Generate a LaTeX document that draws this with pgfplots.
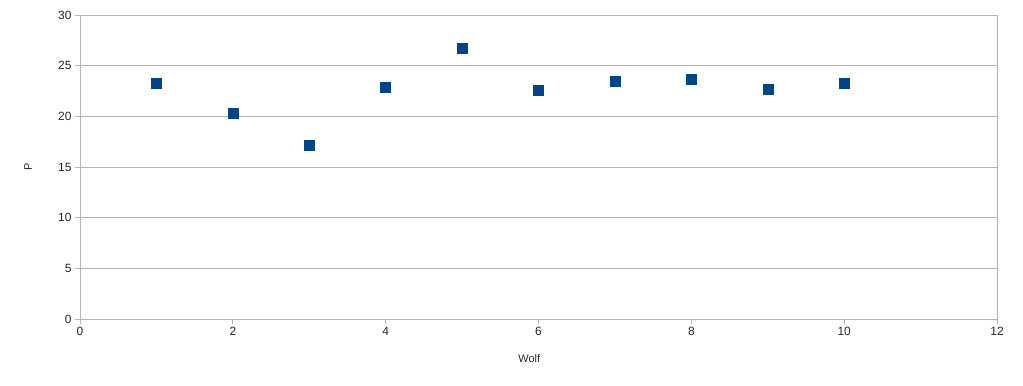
\documentclass[border=0pt]{standalone}
\usepackage{pgfplots}
\pgfplotsset{compat=1.18}
\usepackage{fontspec}
\setmainfont{Liberation Sans}
\definecolor{gridgray}{HTML}{B3B3B3}
\definecolor{ptblue}{HTML}{004586}
\begin{document}
\begin{tikzpicture}
\begin{axis}[
  at={(0,0)}, anchor=south west,
  scale only axis,
  width=917bp, height=304bp,
  xmin=0, xmax=12, ymin=0, ymax=30,
  xtick={0,2,...,12}, ytick={0,5,...,30},
  ymajorgrids,
  grid style={gridgray, line width=0.8bp},
  axis line style={gridgray, line width=0.8bp},
  tick style={gridgray, line width=0.8bp},
  tick align=outside,
  major tick length=5bp,
  xtick pos=bottom, ytick pos=left,
  tick label style={font=\fontsize{12}{14}\selectfont, text=black!85},
  /pgf/number format/assume math mode=true,
  xlabel={Wolf}, ylabel={P},
  label style={font=\fontsize{11}{13}\selectfont, text=black!85},
  xlabel style={at={(axis description cs:0.49,-0.129)}, anchor=center},
  ylabel style={at={(axis description cs:-0.0567,0.5)}, anchor=center},
]
\addplot[only marks, mark=square*, mark size=5bp, mark options={fill=ptblue, draw=ptblue}] coordinates {
 (1,23.27) (2,20.3) (3,17.15) (4,22.85) (5,26.68) (6,22.58) (7,23.43) (8,23.69) (9,22.64) (10,23.23)
};
\end{axis}
\path (-80bp,-67bp) rectangle (943bp,319bp);
\end{tikzpicture}
\end{document}
